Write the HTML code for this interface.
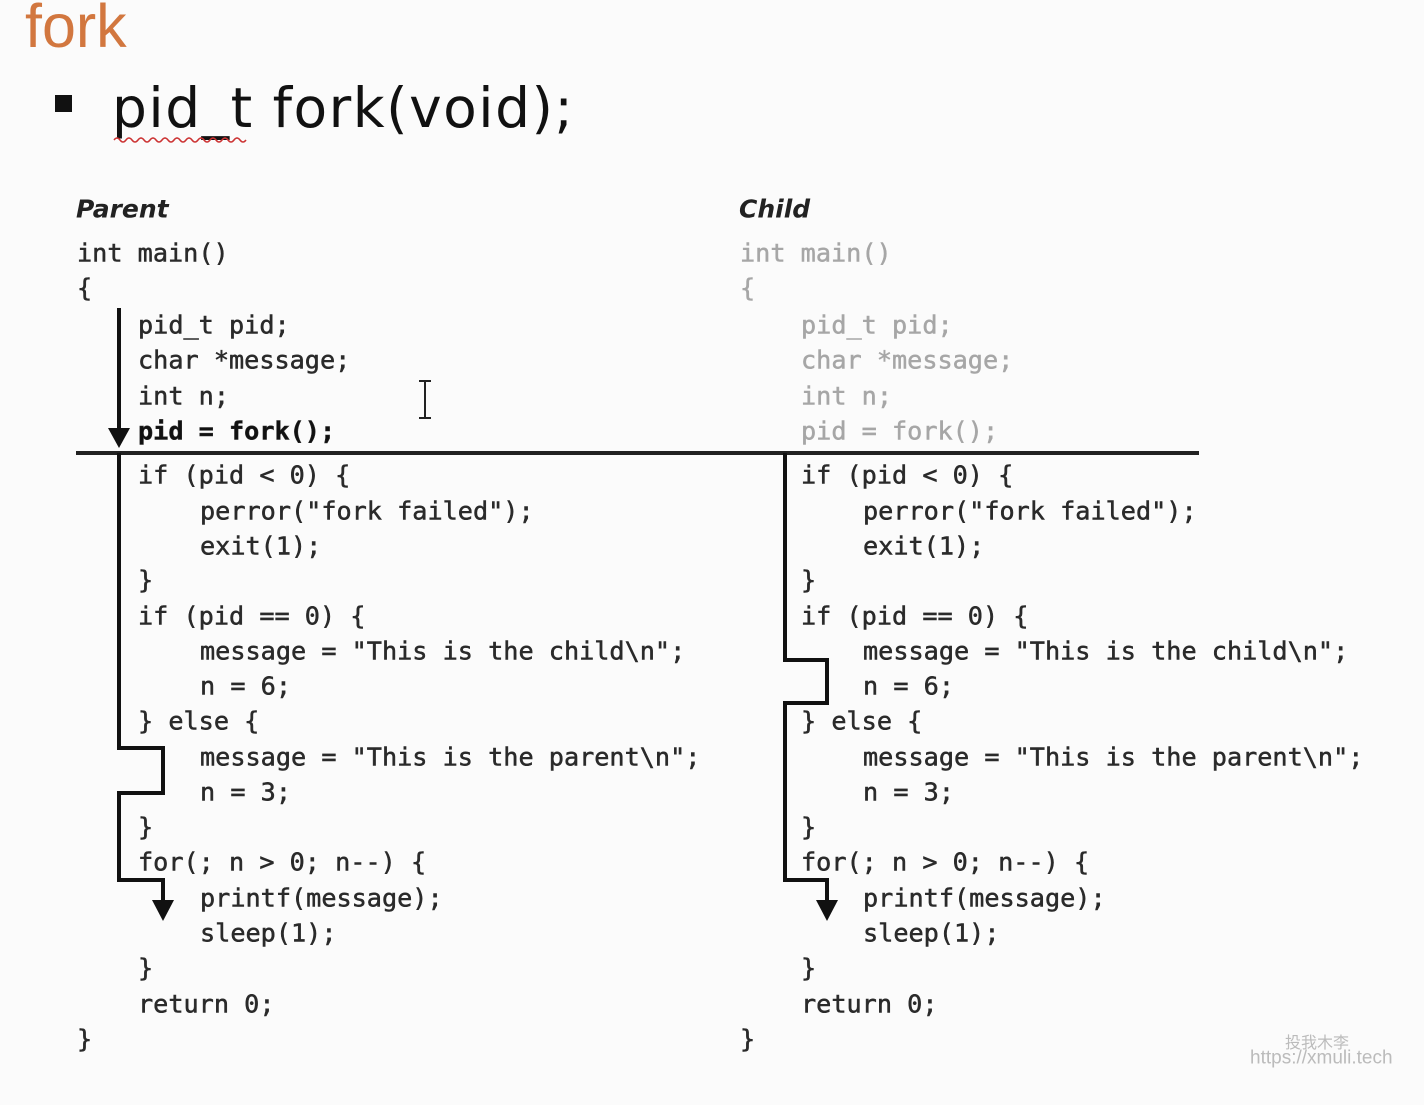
<!DOCTYPE html>
<html><head><meta charset="utf-8"><style>
body{margin:0;background:#fbfbfb;}
svg text{font-family:"DejaVu Sans Mono","Liberation Mono",monospace;font-size:25.2px;fill:#2a2a2a;dominant-baseline:central;stroke:#2a2a2a;stroke-width:0.5;}
</style></head><body>
<svg width="1424" height="1100" viewBox="0 0 1424 1100" xmlns="http://www.w3.org/2000/svg">
<rect width="1424" height="1100" fill="#fbfbfb"/>
<text x="25" y="26" style="font-family:'Liberation Sans',sans-serif;font-size:61px;fill:#d2773f;stroke:none">fork</text>
<rect x="55" y="95" width="17" height="17" fill="#111"/>
<text x="112" y="108" style="font-family:'DejaVu Sans',sans-serif;font-size:55px;fill:#111;stroke:none;letter-spacing:1.5px">pid_t fork(void);</text>
<path d="M114 140 q3 -4 6 0 t6 0 t6 0 t6 0 t6 0 t6 0 t6 0 t6 0 t6 0 t6 0 t6 0 t6 0 t6 0 t6 0 t6 0 t6 0 t6 0 t6 0 t6 0 t6 0 t6 0 t6 0" stroke="#c33" fill="none" stroke-width="1.5"/>
<text x="76" y="209" style="font-family:'DejaVu Sans',sans-serif;font-weight:bold;font-style:italic;font-size:25px;fill:#222;stroke:none">Parent</text>
<text x="739" y="209" style="font-family:'DejaVu Sans',sans-serif;font-weight:bold;font-style:italic;font-size:25px;fill:#222;stroke:none">Child</text>
<g>
<text x="77" y="253">int main()</text>
<text x="77" y="288">{</text>
<text x="138" y="325">pid_t pid;</text>
<text x="138" y="360">char *message;</text>
<text x="138" y="396">int n;</text>
</g>
<text x="138" y="431" style="font-weight:bold;fill:#111">pid = fork();</text>
<g style="opacity:0.4">
<text x="740" y="253">int main()</text>
<text x="740" y="288">{</text>
<text x="801" y="325">pid_t pid;</text>
<text x="801" y="360">char *message;</text>
<text x="801" y="396">int n;</text>
<text x="801" y="431">pid = fork();</text>
</g>
<g>
<text x="138" y="475">if (pid &lt; 0) {</text>
<text x="200" y="511">perror("fork failed");</text>
<text x="200" y="546">exit(1);</text>
<text x="138" y="580">}</text>
<text x="138" y="616">if (pid == 0) {</text>
<text x="200" y="651">message = "This is the child\n";</text>
<text x="200" y="686">n = 6;</text>
<text x="138" y="721">} else {</text>
<text x="200" y="757">message = "This is the parent\n";</text>
<text x="200" y="792">n = 3;</text>
<text x="138" y="827">}</text>
<text x="138" y="862">for(; n &gt; 0; n--) {</text>
<text x="200" y="898">printf(message);</text>
<text x="200" y="933">sleep(1);</text>
<text x="138" y="968">}</text>
<text x="138" y="1004">return 0;</text>
<text x="77" y="1039">}</text>
</g>
<g>
<text x="801" y="475">if (pid &lt; 0) {</text>
<text x="863" y="511">perror("fork failed");</text>
<text x="863" y="546">exit(1);</text>
<text x="801" y="580">}</text>
<text x="801" y="616">if (pid == 0) {</text>
<text x="863" y="651">message = "This is the child\n";</text>
<text x="863" y="686">n = 6;</text>
<text x="801" y="721">} else {</text>
<text x="863" y="757">message = "This is the parent\n";</text>
<text x="863" y="792">n = 3;</text>
<text x="801" y="827">}</text>
<text x="801" y="862">for(; n &gt; 0; n--) {</text>
<text x="863" y="898">printf(message);</text>
<text x="863" y="933">sleep(1);</text>
<text x="801" y="968">}</text>
<text x="801" y="1004">return 0;</text>
<text x="740" y="1039">}</text>
</g>
<line x1="76" y1="453" x2="1199" y2="453" stroke="#222" stroke-width="4"/>
<g stroke="#111" stroke-width="4" fill="none">
<line x1="119" y1="308" x2="119" y2="432"/>
<polyline points="119,453 119,748 163,748 163,793 119,793 119,880 163,880 163,905"/>
<polyline points="785,453 785,660 827,660 827,703 785,703 785,880 827,880 827,905"/>
</g>
<g fill="#111">
<polygon points="108,428 130,428 119,448"/>
<polygon points="152,900 174,900 163,921"/>
<polygon points="816,900 838,900 827,921"/>
</g>
<g stroke="#222" stroke-width="2"><line x1="425" y1="381" x2="425" y2="418"/><line x1="419" y1="381" x2="431" y2="381"/><line x1="419" y1="418" x2="431" y2="418"/></g>
<text x="1285" y="1041" style="font-family:'Noto Sans CJK SC',sans-serif;font-size:16px;fill:#bbb;stroke:none">投我木李</text>
<text x="1250" y="1058" style="font-family:'Liberation Sans',sans-serif;font-size:19px;fill:#bbb;stroke:none">https://xmuli.tech</text>
</svg>
</body></html>
